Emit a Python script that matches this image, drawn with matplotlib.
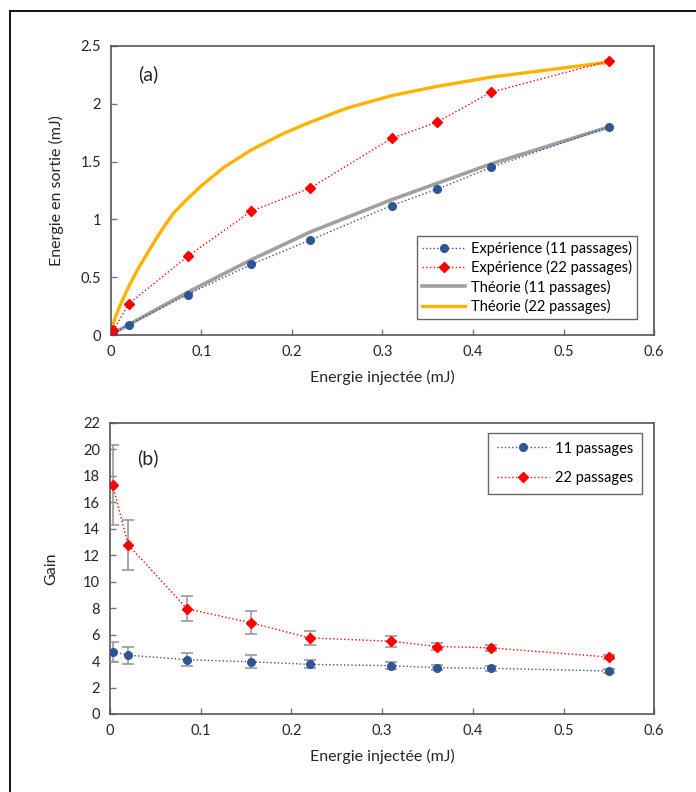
import numpy as np
import matplotlib
matplotlib.use("Agg")
import matplotlib.pyplot as plt
from matplotlib.lines import Line2D

plt.rcParams['font.family'] = ['Lato', 'DejaVu Sans']

# energie injectee (mJ)
e_inj = [0.003, 0.02, 0.085, 0.155, 0.22, 0.31, 0.36, 0.42, 0.55]

# (a) energie en sortie (mJ)
exp_11 = [0.02, 0.09, 0.35, 0.61, 0.82, 1.12, 1.26, 1.45, 1.80]
exp_22 = [0.04, 0.27, 0.68, 1.07, 1.27, 1.70, 1.84, 2.10, 2.37]

theo_x_11 = [0.0, 0.02, 0.085, 0.155, 0.22, 0.31, 0.42, 0.55]
theo_11 = [0.0, 0.09, 0.37, 0.65, 0.89, 1.17, 1.48, 1.80]

theo_x_22 = [0.0, 0.005, 0.01, 0.02, 0.03, 0.04, 0.05, 0.06, 0.07, 0.085, 0.1, 0.125, 0.155, 0.19,
             0.22, 0.26, 0.31, 0.36, 0.42, 0.48, 0.55]
theo_22 = [0.03, 0.15, 0.25, 0.42, 0.57, 0.70, 0.83, 0.95, 1.06, 1.18, 1.29, 1.45, 1.60, 1.74,
           1.84, 1.96, 2.07, 2.15, 2.23, 2.29, 2.36]

# (b) gain
gain_11 = [4.7, 4.45, 4.1, 3.95, 3.75, 3.65, 3.5, 3.45, 3.25]
gain_11_err = [0.75, 0.65, 0.5, 0.5, 0.3, 0.25, 0.2, 0.2, 0.15]
gain_22 = [17.3, 12.8, 7.95, 6.9, 5.75, 5.5, 5.1, 5.0, 4.3]
gain_22_err = [3.0, 1.9, 0.95, 0.88, 0.55, 0.4, 0.3, 0.25, 0.15]

blue = '#2F5597'
red = '#FF0000'
gold = '#FFB300'
grey = '#A0A0A0'
txt = '#262626'
spine = '#555555'

fig = plt.figure(figsize=(6.96, 7.92), dpi=100)
ax1 = fig.add_axes([0.159, 0.577, 0.781, 0.365])
ax2 = fig.add_axes([0.158, 0.0985, 0.782, 0.3675])

# outer frame
fig.add_artist(Line2D([10/696, 10/696], [0, 1-11/792], transform=fig.transFigure, color='black', lw=1.3))
fig.add_artist(Line2D([10/696, 1], [1-11/792, 1-11/792], transform=fig.transFigure, color='black', lw=1.3))

# ---- (a)
ax1.plot(theo_x_11, theo_11, color=grey, lw=2.6, label=u'Théorie (11 passages)', zorder=2)
ax1.plot(theo_x_22, theo_22, color=gold, lw=2.4, label=u'Théorie (22 passages)', zorder=2)
ax1.plot(e_inj, exp_11, color=blue, ls=':', lw=1.0, marker='o', ms=5.5, label=u'Expérience (11 passages)', zorder=3)
ax1.plot(e_inj, exp_22, color=red, ls=':', lw=1.0, marker='D', ms=5.5, label=u'Expérience (22 passages)', zorder=3)
ax1.set_xlim(0, 0.6)
ax1.set_ylim(0, 2.5)
ax1.set_xticks([0, 0.1, 0.2, 0.3, 0.4, 0.5, 0.6])
ax1.set_xticklabels(['0', '0.1', '0.2', '0.3', '0.4', '0.5', '0.6'])
ax1.set_yticks([0, 0.5, 1, 1.5, 2, 2.5])
ax1.set_yticklabels(['0', '0.5', '1', '1.5', '2', '2.5'])
ax1.set_xlabel(u'Energie injectée (mJ)', fontsize=11.5, color=txt, labelpad=8)
ax1.set_ylabel('Energie en sortie (mJ)', fontsize=11.5, color=txt, labelpad=12)
ax1.text(0.05, 0.88, '(a)', transform=ax1.transAxes, fontsize=14, color=txt)
h, lab = ax1.get_legend_handles_labels()
order = [2, 3, 0, 1]
leg = ax1.legend([h[i] for i in order], [lab[i] for i in order], loc='lower right',
                 bbox_to_anchor=(0.969, 0.055), borderaxespad=0, fontsize=10.5, fancybox=False,
                 edgecolor='#666666', framealpha=1, borderpad=0.35, labelspacing=0.3,
                 handlelength=3.0, handletextpad=0.4)
leg.get_frame().set_linewidth(1.0)

# ---- (b)
ax2.errorbar(e_inj, gain_11, yerr=gain_11_err, color=blue, ls=':', lw=1.0, marker='o', ms=5.5,
             ecolor='#999999', elinewidth=1.2, capsize=4, capthick=1.2, zorder=3)
ax2.errorbar(e_inj, gain_22, yerr=gain_22_err, color=red, ls=':', lw=1.0, marker='D', ms=5.5,
             ecolor='#999999', elinewidth=1.2, capsize=4, capthick=1.2, zorder=3)
ax2.set_xlim(0, 0.6)
ax2.set_ylim(0, 22)
ax2.set_xticks([0, 0.1, 0.2, 0.3, 0.4, 0.5, 0.6])
ax2.set_xticklabels(['0', '0.1', '0.2', '0.3', '0.4', '0.5', '0.6'])
ax2.set_yticks(range(0, 23, 2))
ax2.set_xlabel(u'Energie injectée (mJ)', fontsize=11.5, color=txt, labelpad=8)
ax2.set_ylabel('Gain', fontsize=11.5, color=txt, labelpad=18)
ax2.text(0.05, 0.86, '(b)', transform=ax2.transAxes, fontsize=14, color=txt)
hb = [Line2D([], [], color=blue, ls=':', lw=1.0, marker='o', ms=5.5),
      Line2D([], [], color=red, ls=':', lw=1.0, marker='D', ms=5.5)]
leg2 = ax2.legend(hb, ['11 passages', '22 passages'], loc='upper right',
                  bbox_to_anchor=(0.978, 0.966), borderaxespad=0, fontsize=10.5, fancybox=False,
                  edgecolor='#666666', framealpha=1, borderpad=0.6, labelspacing=1.05,
                  handlelength=3.6, handletextpad=0.4)
leg2.get_frame().set_linewidth(1.0)

for ax in (ax1, ax2):
    for s in ax.spines.values():
        s.set_color(spine)
        s.set_linewidth(1.2)
    ax.tick_params(direction='in', length=4, width=1, color='#777777', labelsize=10.5,
                   labelcolor=txt, pad=7)

fig.savefig('out.png', dpi=100)
